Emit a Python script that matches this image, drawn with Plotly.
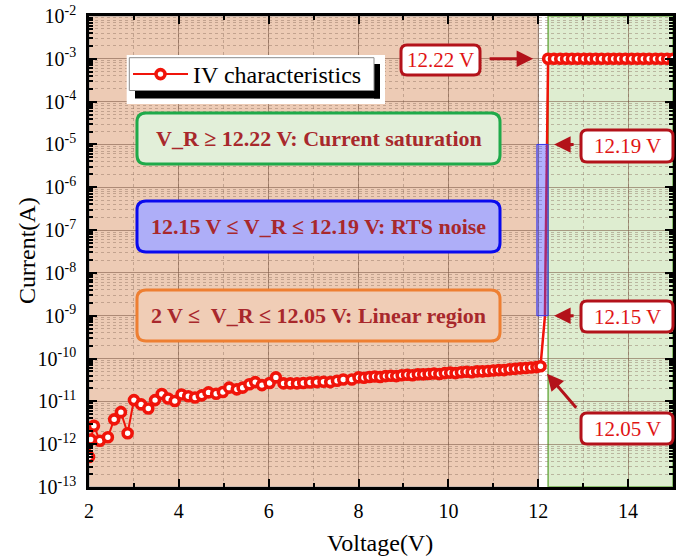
import plotly.graph_objects as go

# ---- measured I-V data ----
V_LINEAR = [2.00, 2.04, 2.11, 2.24, 2.42, 2.56, 2.71, 2.86, 3.00, 3.16, 3.32, 3.47,
            3.62, 3.76, 3.91, 4.06, 4.21, 4.36, 4.51, 4.66, 4.83, 4.98, 5.12, 5.29,
            5.42, 5.57, 5.70, 5.85, 6.02, 6.16, 6.33, 6.48, 6.63, 6.77, 6.92, 7.07,
            7.22, 7.37, 7.52, 7.66, 7.85, 8.00, 8.12, 8.24, 8.36, 8.48, 8.60, 8.72,
            8.84, 8.96, 9.08, 9.20, 9.32, 9.44, 9.56, 9.68, 9.80, 9.92, 10.04, 10.16,
            10.28, 10.40, 10.52, 10.64, 10.76, 10.88, 11.00, 11.12, 11.24, 11.36,
            11.48, 11.60, 11.72, 11.84, 11.96, 12.05]
I_LINEAR = [5.0e-13, 1.29e-12, 2.7e-12, 1.2e-12, 1.45e-12, 3.8e-12, 5.6e-12, 1.8e-12,
            1.07e-11, 8.5e-12, 6.8e-12, 1.07e-11, 1.48e-11, 1.17e-11, 1.02e-11, 1.45e-11,
            1.32e-11, 1.23e-11, 1.38e-11, 1.62e-11, 1.51e-11, 1.66e-11, 2.09e-11, 1.91e-11,
            2.09e-11, 2.51e-11, 2.82e-11, 2.40e-11, 2.69e-11, 3.63e-11, 2.63e-11, 2.63e-11,
            2.63e-11, 2.69e-11, 2.75e-11, 2.82e-11, 2.88e-11, 2.82e-11, 3.02e-11, 3.24e-11,
            3.24e-11, 3.63e-11, 3.55e-11, 3.72e-11, 3.80e-11, 3.72e-11, 3.89e-11, 3.98e-11,
            3.89e-11, 4.07e-11, 4.17e-11, 4.07e-11, 4.27e-11, 4.27e-11, 4.37e-11, 4.47e-11,
            4.37e-11, 4.57e-11, 4.68e-11, 4.57e-11, 4.79e-11, 4.90e-11, 4.79e-11, 5.01e-11,
            5.01e-11, 5.13e-11, 5.25e-11, 5.37e-11, 5.37e-11, 5.62e-11, 5.75e-11, 5.89e-11,
            6.03e-11, 6.17e-11, 6.31e-11, 6.60e-11]

# breakdown transition (RTS noise window) joining the two regimes
V_RTS = [12.05, 12.15, 12.16, 12.17, 12.18, 12.19, 12.22]
I_RTS = [6.60e-11, 1.0e-9, 1.0e-8, 1.0e-7, 1.0e-6, 1.0e-5, 1.0e-3]

# saturated current
V_SAT = [12.22, 12.35, 12.49, 12.62, 12.75, 12.88, 13.02, 13.15, 13.28, 13.41, 13.55,
         13.68, 13.81, 13.94, 14.08, 14.21, 14.34, 14.47, 14.61, 14.74, 14.87, 15.00]
I_SAT = [1.0e-3] * len(V_SAT)

X_TICKS = [2, 4, 6, 8, 10, 12, 14]
Y_TICKS = [1e-13, 1e-12, 1e-11, 1e-10, 1e-9, 1e-8, 1e-7, 1e-6, 1e-5, 1e-4, 1e-3, 1e-2]
Y_TICKTEXT = ["10<sup>-13</sup>", "10<sup>-12</sup>", "10<sup>-11</sup>", "10<sup>-10</sup>",
              "10<sup>-9</sup>", "10<sup>-8</sup>", "10<sup>-7</sup>", "10<sup>-6</sup>",
              "10<sup>-5</sup>", "10<sup>-4</sup>", "10<sup>-3</sup>", "10<sup>-2</sup>"]

# region boundaries (V) and current window of the RTS band
LINEAR_END = 12.0
SAT_START = 12.22
RTS_LOW, RTS_HIGH = 1e-9, 1e-5

# ---- page geometry ----
W, H = 695, 560
ML, MR, MT, MB = 89, 22, 16, 73
PW, PH = W - ML - MR, H - MT - MB

SERIF = "Liberation Serif"
RED = "#F0140A"
DARKRED = "#B3121A"
BOX_TEXT = "#A8282C"


def px(x, y):
    """Figure pixel -> paper coordinates."""
    return (x - ML) / PW, (H - MB - y) / PH


def rounded_path(x0, y0, x1, y1, r):
    def P(x, y):
        a, b = px(x, y)
        return f"{a:.5f},{b:.5f}"
    return (f"M{P(x0 + r, y0)} L{P(x1 - r, y0)} Q{P(x1, y0)} {P(x1, y0 + r)} "
            f"L{P(x1, y1 - r)} Q{P(x1, y1)} {P(x1 - r, y1)} L{P(x0 + r, y1)} "
            f"Q{P(x0, y1)} {P(x0, y1 - r)} L{P(x0, y0 + r)} Q{P(x0, y0)} {P(x0 + r, y0)} Z")


def rect_paper(x0, y0, x1, y1, fill, line_color=None, line_width=0, layer="above"):
    a0, b0 = px(x0, y1)
    a1, b1 = px(x1, y0)
    return dict(type="rect", xref="paper", yref="paper", x0=a0, y0=b0, x1=a1, y1=b1,
                fillcolor=fill, line=dict(color=line_color or fill, width=line_width),
                layer=layer)


fig = go.Figure()

# transition through the RTS window (line only)
fig.add_trace(go.Scatter(
    x=V_RTS, y=I_RTS, mode="lines", showlegend=False, hoverinfo="skip",
    line=dict(color=RED, width=2.5)))

# main I-V curve: linear region + saturation
fig.add_trace(go.Scatter(
    x=V_LINEAR + [None] + V_SAT, y=I_LINEAR + [None] + I_SAT,
    mode="lines+markers", name="IV characteristics", connectgaps=False,
    line=dict(color=RED, width=2),
    marker=dict(symbol="circle", size=9, color="white", line=dict(color=RED, width=3.6))))

shapes = []
# background regions
shapes.append(dict(type="rect", xref="x", yref="paper", x0=2, x1=LINEAR_END, y0=0, y1=1,
                   fillcolor="#EDCBB5", line=dict(color="#A8A8A8", width=1), layer="below"))
shapes.append(dict(type="rect", xref="x", yref="paper", x0=SAT_START, x1=15, y0=0, y1=1,
                   fillcolor="#DEEDD0", line=dict(color="#72B04E", width=1.5), layer="below"))
# RTS band
shapes.append(dict(type="rect", xref="x", yref="y", x0=LINEAR_END - 0.03, x1=SAT_START,
                   y0=RTS_LOW, y1=RTS_HIGH, fillcolor="rgba(70,70,255,0.42)",
                   line=dict(color="#3A3AF0", width=1), layer="above"))

# legend frame with drop shadow
shapes.append(rect_paper(126.7, 55, 385, 104, "white"))
shapes.append(rect_paper(135, 91, 380, 98.5, "black"))
shapes.append(rect_paper(374, 64, 380, 98.5, "black"))
shapes.append(rect_paper(129.3, 57.7, 374, 90.5, "white", "#8A8A8A", 1))

# region description boxes
boxes = [
    ((137, 113, 500, 164), "#E2EFD9", "#1FAA4A", "V_R ≥ 12.22 V: Current saturation"),
    ((137, 201, 500, 252), "#AEAEF8", "#0A0AEE", "12.15 V ≤ V_R ≤ 12.19 V: RTS noise"),
    ((137, 290, 500, 341), "#F0CDB6", "#EE7F32", "2 V ≤\u00a0 V_R ≤ 12.05 V: Linear region"),
]
annotations = []
for (x0, y0, x1, y1), fill, border, text in boxes:
    shapes.append(dict(type="path", xref="paper", yref="paper",
                       path=rounded_path(x0, y0, x1, y1, 9), fillcolor=fill,
                       line=dict(color=border, width=3), layer="above"))
    cx, cy = px((x0 + x1) / 2, (y0 + y1) / 2)
    annotations.append(dict(xref="paper", yref="paper", x=cx, y=cy, text=f"<b>{text}</b>",
                            xanchor="center", yanchor="middle", showarrow=False,
                            font=dict(family=SERIF, size=22, color=BOX_TEXT)))

# voltage call-outs
callouts = [
    ((401, 45, 480, 75), "12.22 V"),
    ((581, 130, 673, 162), "12.19 V"),
    ((581, 301, 673, 332), "12.15 V"),
    ((581, 413, 673, 444), "12.05 V"),
]
for (x0, y0, x1, y1), text in callouts:
    shapes.append(dict(type="path", xref="paper", yref="paper",
                       path=rounded_path(x0, y0, x1, y1, 6), fillcolor="white",
                       line=dict(color=DARKRED, width=3), layer="above"))
    cx, cy = px((x0 + x1) / 2, (y0 + y1) / 2)
    annotations.append(dict(xref="paper", yref="paper", x=cx, y=cy, text=text,
                            xanchor="center", yanchor="middle", showarrow=False,
                            font=dict(family=SERIF, size=21, color="#E01414")))

# arrows: head at the feature, tail near the call-out box
arrow_style = dict(text="", showarrow=True, arrowhead=2, arrowsize=1.1, arrowwidth=3,
                   arrowcolor=DARKRED, xref="x", yref="y", axref="pixel", ayref="pixel")
annotations.append(dict(arrow_style, x=V_SAT[0], y=-3, ax=-60, ay=0, standoff=15))
annotations.append(dict(arrow_style, x=SAT_START, y=-5, ax=27, ay=0, standoff=6))
annotations.append(dict(arrow_style, x=SAT_START, y=-9, ax=27, ay=0, standoff=6))
annotations.append(dict(arrow_style, x=V_LINEAR[-1], y=-10.18, ax=37, ay=43, standoff=10))

# axis titles
tx, ty = px(380, 543)
annotations.append(dict(xref="paper", yref="paper", x=tx, y=ty, text="Voltage(V)",
                        xanchor="center", yanchor="middle", showarrow=False,
                        font=dict(family=SERIF, size=24, color="black")))
tx, ty = px(27, 251)
annotations.append(dict(xref="paper", yref="paper", x=tx, y=ty, text="Current(A)",
                        textangle=-90, xanchor="center", yanchor="middle", showarrow=False,
                        font=dict(family=SERIF, size=24, color="black")))

grid_major = "rgba(120,85,65,0.55)"
grid_minor = "rgba(130,100,85,0.40)"
minor_y = [k * 10.0 ** e for e in range(-13, -2) for k in range(2, 10)]

fig.update_layout(
    width=W, height=H, margin=dict(l=ML, r=MR, t=MT, b=MB, autoexpand=False),
    paper_bgcolor="white", plot_bgcolor="white",
    font=dict(family=SERIF, color="black"),
    shapes=shapes, annotations=annotations,
    showlegend=True,
    legend=dict(x=px(128, 0)[0], y=px(0, 74.5)[1], xanchor="left", yanchor="middle",
                bgcolor="rgba(0,0,0,0)", borderwidth=0, itemwidth=55,
                font=dict(family=SERIF, size=24, color="black")),
    xaxis=dict(range=[2, 15], tickmode="array", tickvals=X_TICKS, automargin=False,
               ticks="inside", ticklen=8, tickwidth=2, tickcolor="black",
               showline=True, linecolor="black", linewidth=2.5, mirror="allticks",
               showgrid=True, gridcolor=grid_major, gridwidth=1,
               minor=dict(dtick=1, ticks="inside", ticklen=4, tickwidth=1.5, tickcolor="black",
                          showgrid=True, gridcolor=grid_minor, griddash="dot", gridwidth=1),
               tickfont=dict(family=SERIF, size=20, color="black"),
               ticklabelstandoff=4, zeroline=False),
    yaxis=dict(type="log", range=[-13, -2], tickmode="array", tickvals=Y_TICKS,
               ticktext=Y_TICKTEXT, automargin=False,
               ticks="inside", ticklen=8, tickwidth=2, tickcolor="black",
               showline=True, linecolor="black", linewidth=2.5, mirror="allticks",
               showgrid=True, gridcolor=grid_major, gridwidth=1,
               minor=dict(tickmode="array", tickvals=minor_y, ticks="inside", ticklen=4,
                          tickwidth=1.5, tickcolor="black",
                          showgrid=True, gridcolor=grid_minor, griddash="dot", gridwidth=1),
               tickfont=dict(family=SERIF, size=20, color="black"),
               ticklabelstandoff=6, zeroline=False),
)

fig.write_html("out.html")
